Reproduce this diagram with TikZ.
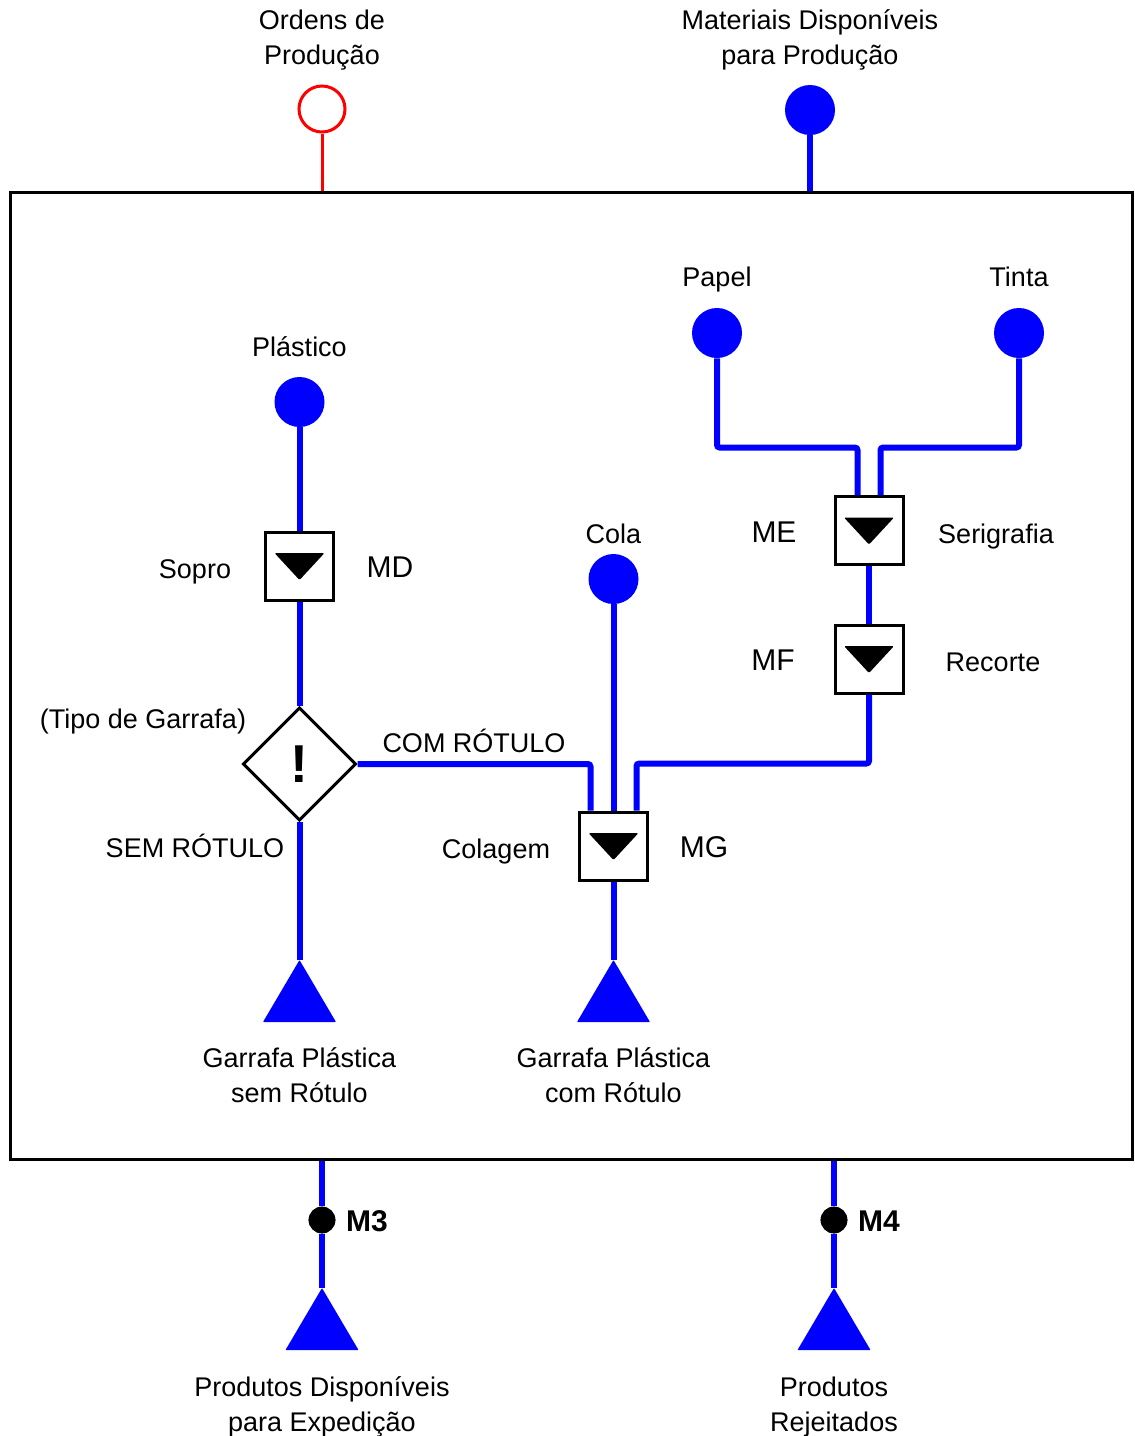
\documentclass[tikz,border=0pt]{standalone}
\usepackage{fontspec}
\setmainfont{Liberation Sans}
\usetikzlibrary{calc,shapes.geometric}
\begin{document}
\begin{tikzpicture}[x=0.75pt,y=-0.75pt,
  lbl/.style={font=\fontsize{20.25}{26.25}\selectfont, align=center, inner sep=0pt, text height=14.6pt, text depth=0pt},
  lbl2/.style={font=\fontsize{20.25}{26.25}\selectfont, align=center, inner sep=0pt},
  tag/.style={font=\fontsize{22.5}{26}\selectfont, inner sep=0pt},
  btag/.style={font=\fontsize{22.5}{26}\selectfont\bfseries, inner sep=0pt},
  flow/.style={draw=blue, line width=4.5pt, rounded corners=2pt},
  src/.style={circle, fill=blue, minimum size=37.5pt, inner sep=0pt},
  ctrl/.style={circle, draw=red, line width=2.25pt, fill=white, minimum size=34.5pt, inner sep=0pt},
  opbox/.style={rectangle, draw=black, line width=2.25pt, fill=white, minimum size=51pt, inner sep=0pt},
  decision/.style={diamond, draw=black, line width=2.25pt, fill=white, minimum size=85pt, inner sep=0pt, aspect=1},
  meter/.style={circle, fill=black, minimum size=20pt, inner sep=0pt},
  downtri/.pic={\fill[black, rounded corners=1pt] (-25,-13) -- (25,-13) -- (0,14) -- cycle;},
  sink/.pic={\fill[blue, rounded corners=0.5pt] (0,0) -- (-36.5,62) -- (36.5,62) -- cycle;}
]
\useasboundingbox (0,0) rectangle (1135,1436);

% system boundary
\node[rectangle, draw=black, line width=2.25pt, minimum width=841.5pt, minimum height=725.25pt, inner sep=0pt] (frame) at (571.5,676) {};

% external inputs
\node[lbl2] (ordlbl) at (322,40.5) {Ordens de\\Produção};
\node[ctrl] (ord) at (322,109) {};
\node[lbl2] (matlbl) at (810,39.5) {Materiais Disponíveis\\para Produção};
\node[src] (mat) at (810,110) {};
\draw[red, line width=2.25pt] (ord) -- (ord |- frame.north);
\draw[flow] (mat) -- (mat |- frame.north);

% raw materials
\node[lbl] (plastlbl) at (299.5,347) {Plástico};
\node[src] (plast) at (299.5,402) {};
\node[lbl] (papellbl) at (717,277) {Papel};
\node[src] (papel) at (717,333) {};
\node[lbl] (tintalbl) at (1019,277) {Tinta};
\node[src] (tinta) at (1019,333) {};
\node[lbl] (colalbl) at (613.5,534) {Cola};
\node[src] (cola) at (613.5,579) {};

% operations
\node[opbox] (md) at (299.5,566) {};
\node[opbox] (me) at (869,530.5) {};
\node[opbox] (mf) at (869,659) {};
\node[opbox] (mg) at (613.5,846) {};
\node[decision] (dec) at (299.5,764) {\fontsize{40}{40}\selectfont\bfseries !};

\foreach \b in {md,me,mf,mg} \pic at (\b) {downtri};

\node[lbl] (soprolbl) at (195,569) {Sopro};
\node[tag] (mdlbl) at (390,567) {MD};
\node[tag] (melbl) at (774,532) {ME};
\node[lbl] (serlbl) at (996,534) {Serigrafia};
\node[tag] (mflbl) at (773,660) {MF};
\node[lbl] (reclbl) at (993,662) {Recorte};
\node[lbl] (collbl) at (496,849) {Colagem};
\node[tag] (mglbl) at (704,847) {MG};
\node[lbl] (tipolbl) at (143,719) {(Tipo de Garrafa)};
\node[lbl] (comlbl) at (474,743) {COM RÓTULO};
\node[lbl] (semlbl) at (195,848) {SEM RÓTULO};

% internal outputs
\coordinate (out1) at (299.5,960);
\coordinate (out2) at (613.5,960);
\pic at (out1) {sink};
\pic at (out2) {sink};
\node[lbl2] (out1lbl) at (299.5,1075.5) {Garrafa Plástica\\sem Rótulo};
\node[lbl2] (out2lbl) at (613.5,1075.5) {Garrafa Plástica\\com Rótulo};

% material flows
\draw[flow] (plast) -- (md);
\draw[flow] (md) -- (dec);
\draw[flow] (dec) -- (out1);
\draw[flow] (dec.east) -| ($(mg.north)+(-23,0)$);
\draw[flow] (cola) -- (mg);
\draw[flow] (mg) -- (out2);
\draw[flow] (papel) |- ($(me.north)+(-11.5,-47.5)$) -- ($(me.north)+(-11.5,0)$);
\draw[flow] (tinta) |- ($(me.north)+(11.5,-47.5)$) -- ($(me.north)+(11.5,0)$);
\draw[flow] (me) -- (mf);
\draw[flow] (mf) |- ($(mg.north)+(23,-47)$) -- ($(mg.north)+(23,0)$);

% system outputs
\node[meter] (m3) at (322,1220) {};
\node[meter] (m4) at (834,1220) {};
\coordinate (out3) at (322,1288);
\coordinate (out4) at (834,1288);
\draw[flow] (m3 |- frame.south) -- (m3);
\draw[flow] (m3) -- (out3);
\draw[flow] (m4 |- frame.south) -- (m4);
\draw[flow] (m4) -- (out4);
\node[meter] at (m3) {};
\node[meter] at (m4) {};
\pic at (out3) {sink};
\pic at (out4) {sink};
\node[btag] (m3lbl) at (367,1221) {M3};
\node[btag] (m4lbl) at (879,1221) {M4};
\node[lbl2] (out3lbl) at (322,1407) {Produtos Disponíveis\\para Expedição};
\node[lbl2] (out4lbl) at (834,1407) {Produtos\\Rejeitados};
\end{tikzpicture}
\end{document}
